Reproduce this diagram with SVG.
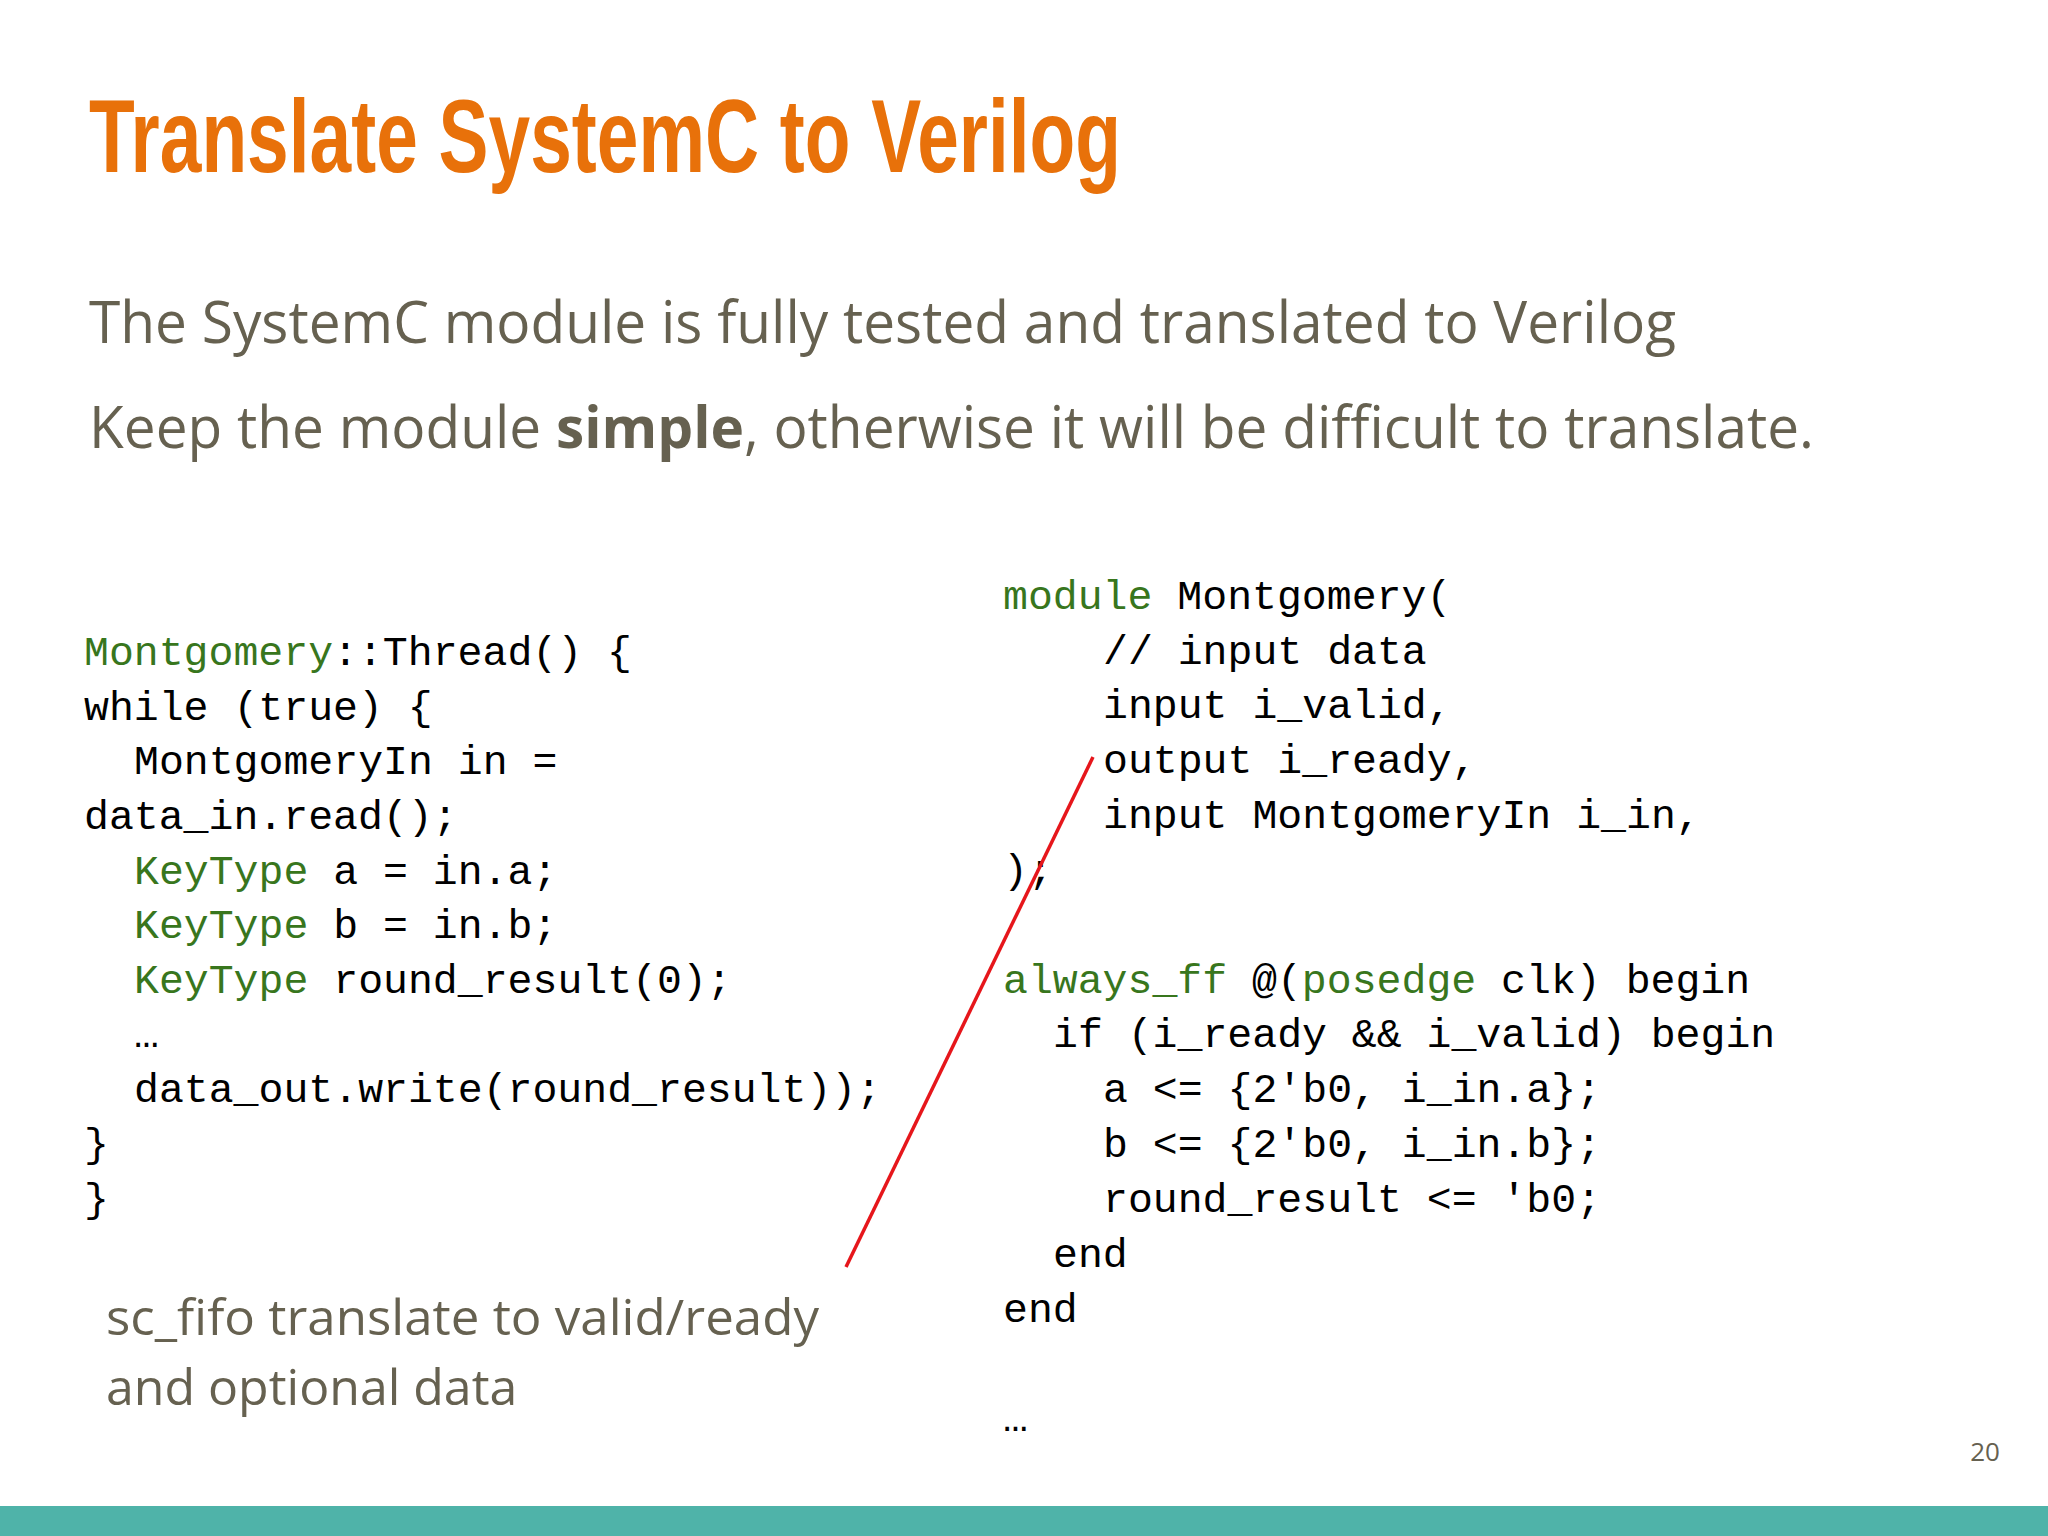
<svg xmlns="http://www.w3.org/2000/svg" width="2048" height="1536" viewBox="0 0 2048 1536">
<style>
.t{font-family:"Open Sans","Liberation Sans",sans-serif;fill:#666150}
.c{font-family:"Liberation Mono","DejaVu Sans Mono",monospace;font-size:41.5px;fill:#000}
.g{fill:#38761d}
</style>
<rect width="2048" height="1536" fill="#fff"/>
<g id="title"><text x="89" y="172" font-family="Liberation Sans,sans-serif" font-weight="bold" font-size="104" fill="#e8710a" textLength="1032" lengthAdjust="spacingAndGlyphs">Translate SystemC to Verilog</text></g>
<g id="subtitle">
<text class="t" x="89" y="343" font-size="58" textLength="1587" lengthAdjust="spacingAndGlyphs">The SystemC module is fully tested and translated to Verilog</text>
<text class="t" x="89" y="448" font-size="58" textLength="1725" lengthAdjust="spacingAndGlyphs">Keep the module <tspan font-weight="bold">simple</tspan>, otherwise it will be difficult to translate.</text>
</g>
<g id="systemc-code" class="c">
<text x="84" y="665"><tspan class="g">Montgomery</tspan>::Thread() {</text>
<text x="84" y="720">while (true) {</text>
<text x="134" y="774">MontgomeryIn in =</text>
<text x="84" y="829">data_in.read();</text>
<text x="134" y="884"><tspan class="g">KeyType</tspan> a = in.a;</text>
<text x="134" y="938"><tspan class="g">KeyType</tspan> b = in.b;</text>
<text x="134" y="993"><tspan class="g">KeyType</tspan> round_result(0);</text>
<text x="134" y="1047">…</text>
<text x="134" y="1102">data_out.write(round_result));</text>
<text x="84" y="1157">}</text>
<text x="84" y="1212">}</text>
</g>
<g id="verilog-code" class="c">
<text x="1003" y="609"><tspan class="g">module</tspan> Montgomery(</text>
<text x="1103" y="664">// input data</text>
<text x="1103" y="718">input i_valid,</text>
<text x="1103" y="773">output i_ready,</text>
<text x="1103" y="828">input MontgomeryIn i_in,</text>
<text x="1003" y="883">);</text>
<text x="1003" y="993"><tspan class="g">always_ff</tspan> @(<tspan class="g">posedge</tspan> clk) begin</text>
<text x="1053" y="1047">if (i_ready &amp;&amp; i_valid) begin</text>
<text x="1103" y="1102">a &lt;= {2'b0, i_in.a};</text>
<text x="1103" y="1157">b &lt;= {2'b0, i_in.b};</text>
<text x="1103" y="1212">round_result &lt;= 'b0;</text>
<text x="1053" y="1267">end</text>
<text x="1003" y="1322">end</text>
<text x="1003" y="1431">…</text>
</g>
<g id="connectors"><line x1="1093" y1="757" x2="846" y2="1267" stroke="#e6161b" stroke-width="3.5"/></g>
<g id="caption">
<text class="t" x="106" y="1335" font-size="50" textLength="713" lengthAdjust="spacingAndGlyphs">sc_fifo translate to valid/ready</text>
<text class="t" x="106" y="1405" font-size="50">and optional data</text>
</g>
<text x="1985" y="1461" font-family="Open Sans,sans-serif" font-size="26" fill="#666150" text-anchor="middle">20</text>
<rect x="0" y="1506" width="2048" height="30" fill="#4fb3a9"/>
</svg>
